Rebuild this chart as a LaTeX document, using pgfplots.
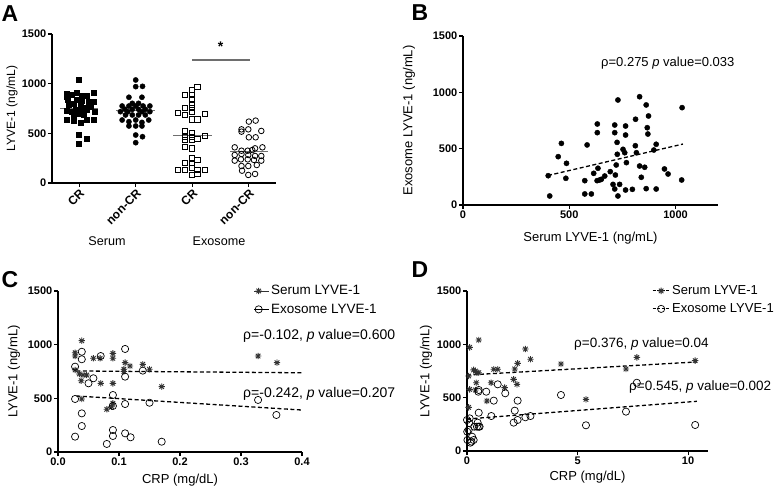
\documentclass[border=0pt]{standalone}
\usepackage{fontspec}
\setmainfont{Liberation Sans}
\usepackage{pgfplots}
\pgfplotsset{compat=1.18}

\pgfdeclareplotmark{ast8}{%
 \pgfpathmoveto{\pgfqpoint{-\pgfplotmarksize}{0pt}}\pgfpathlineto{\pgfqpoint{\pgfplotmarksize}{0pt}}%
 \pgfpathmoveto{\pgfqpoint{0pt}{-\pgfplotmarksize}}\pgfpathlineto{\pgfqpoint{0pt}{\pgfplotmarksize}}%
 \pgfpathmoveto{\pgfqpoint{-.707\pgfplotmarksize}{-.707\pgfplotmarksize}}\pgfpathlineto{\pgfqpoint{.707\pgfplotmarksize}{.707\pgfplotmarksize}}%
 \pgfpathmoveto{\pgfqpoint{-.707\pgfplotmarksize}{.707\pgfplotmarksize}}\pgfpathlineto{\pgfqpoint{.707\pgfplotmarksize}{-.707\pgfplotmarksize}}%
 \pgfusepathqstroke}

\definecolor{astgray}{RGB}{50,50,50}
\definecolor{medgray}{RGB}{110,110,110}

\pgfplotsset{prism/.style={
  scale only axis, axis lines=left, axis line style={-, line width=1.5pt, black},
  tick align=outside, major tick length=4pt, tick style={line width=1.2pt, black},
  tick label style={font=\fontsize{11}{12}\selectfont\bfseries, inner sep=1.5pt},
  /pgf/number format/assume math mode=true,
  /pgf/number format/1000 sep={},
  label style={font=\fontsize{13}{15}\selectfont},
  clip=false, anchor=south west, minor tick num=0,
}}

\pgfplotstableread{
x y
1.00 1037
0.78 903
0.78 869
0.87 893
0.95 909
1.04 876
1.14 876
1.25 909
0.80 843
0.96 843
1.05 833
1.16 819
1.25 819
0.81 785
0.90 802
1.02 785
1.11 762
1.20 768
0.78 728
0.86 718
0.94 742
1.05 728
1.14 735
1.27 718
0.90 685
0.99 702
1.08 685
0.78 641
0.90 624
1.02 607
1.14 634
1.25 634
1.00 490
1.14 443
1.00 399
}\serumCR

\pgfplotstableread{
x y
2.00 1037
2.00 970
2.12 973
1.88 863
2.11 863
1.94 802
2.05 802
1.76 775
1.88 775
2.00 775
2.13 775
2.25 775
1.81 742
1.94 742
2.05 742
2.17 742
1.73 718
1.86 718
2.11 718
2.25 718
1.82 685
1.94 685
2.05 685
2.17 685
1.76 634
2.00 634
2.23 634
1.88 617
2.11 610
1.88 574
2.00 574
2.11 574
2.00 483
2.12 466
2.00 406
}\serumNCR

\pgfplotstableread{
x y
3.09 964
2.99 937
2.87 886
2.99 886
2.99 843
2.99 785
2.87 752
2.99 752
2.74 702
2.87 685
2.99 718
3.22 692
2.99 641
3.09 641
2.87 527
2.99 507
2.87 466
2.99 466
3.22 477
2.87 433
2.99 433
3.09 440
2.87 366
2.99 349
2.99 248
2.87 205
2.99 205
3.09 232
2.74 131
2.87 131
2.99 148
3.09 131
3.22 131
2.99 81
3.09 91
}\exoCR

\pgfplotstableread{
x y
4.00 618
4.12 628
3.87 540
3.87 517
3.99 540
4.22 524
4.00 460
4.12 460
3.75 359
3.87 325
3.98 325
4.06 332
4.11 349
4.24 359
3.75 282
3.87 292
3.99 282
4.11 272
4.22 272
3.75 225
3.86 238
3.98 238
4.09 232
4.22 225
3.87 171
3.99 171
4.14 181
3.88 124
3.99 81
4.11 91
}\exoNCR

\pgfplotstableread{
x y
408 80
401 260
448 429
463 547
487 370
484 237
573 216
573 98
604 98
584 533
615 281
635 326
631 216
643 222
651 228
667 257
693 296
632 719
632 642
714 710
714 642
729 932
725 556
726 450
721 355
717 266
706 183
714 142
729 80
737 183
765 701
765 621
753 494
761 464
769 376
765 133
797 139
812 761
811 526
816 464
831 961
831 346
839 246
855 335
862 888
873 790
867 686
870 630
862 145
909 539
898 488
909 142
948 320
965 275
1031 864
1029 222
}\panelB

\pgfplotstableread{
x y
0.039 1037
0.028 925
0.028 894
0.058 873
0.069 873
0.090 919
0.090 873
0.110 832
0.118 801
0.139 817
0.150 771
0.108 771
0.108 750
0.028 764
0.035 727
0.041 717
0.047 717
0.038 664
0.070 640
0.090 640
0.170 609
0.039 494
0.080 398
0.088 422
0.090 454
0.328 894
0.359 832
}\Cserum

\pgfplotstableread{
x y
0.039 934
0.039 864
0.028 795
0.070 894
0.110 960
0.110 702
0.139 758
0.050 640
0.058 687
0.028 494
0.090 531
0.090 429
0.110 447
0.150 459
0.039 360
0.039 242
0.028 143
0.090 205
0.090 149
0.110 174
0.119 137
0.080 75
0.170 96
0.328 485
0.358 345
}\Cexo

\pgfplotstableread{
x y
0.53 1041
0.12 972
2.64 956
2.87 860
4.25 816
2.29 822
2.16 769
1.21 766
1.39 766
0.30 760
0.38 750
0.45 734
0.53 734
0.075 703
0.42 640
1.09 640
2.11 672
2.26 625
1.70 594
0.12 578
0.38 572
0.90 469
0.075 409
7.19 769
7.68 878
10.32 847
5.38 484
}\Dserum

\pgfplotstableread{
x y
0.87 556
1.21 472
1.39 625
1.73 541
2.29 472
0.53 572
0.51 556
0.53 359
1.10 328
2.16 378
2.11 266
2.29 291
2.64 316
2.87 328
0.12 306
0.075 197
0.33 228
0.45 228
0.53 228
0.23 134
0.30 103
0.15 78
4.25 525
5.38 241
7.19 369
7.68 640
10.32 244
0.01 181
0.02 103
0.20 88
0.00 291
0.10 262
0.48 266
0.57 228
}\Dexo

\begin{document}
\begin{tikzpicture}
\path[use as bounding box] (0pt,0pt) rectangle (778pt,492pt);

% ---------- Panel A ----------
\begin{axis}[prism, at={(52pt,309pt)}, width=224pt, height=149pt,
  xmin=0.52, xmax=4.48, ymin=0, ymax=1500,
  ytick={0,500,1000,1500}, xtick={1,2,3,4},
  xticklabels={CR,non-CR,CR,non-CR},
  xticklabel style={rotate=45, anchor=north east, inner sep=1pt, font=\fontsize{12}{13}\selectfont\bfseries},
  ylabel={LYVE-1 (ng/mL)},
  ylabel style={at={(rel axis cs:-0.1786,0.5)}, anchor=center, font=\fontsize{12}{14}\selectfont},
]
\addplot[only marks, mark=square*, mark size=2.5pt, black] table {\serumCR};
\addplot[only marks, mark=*, mark size=2.6pt, black] table {\serumNCR};
\addplot[only marks, mark=square, mark size=2.6pt, black, line width=0.8pt] table {\exoCR};
\addplot[only marks, mark=o, mark size=2.8pt, black, line width=0.8pt] table {\exoNCR};
\addplot[medgray, line width=1.2pt] coordinates {(0.66,747) (1.34,747)};
\addplot[medgray, line width=1.2pt] coordinates {(1.66,726) (2.34,726)};
\addplot[medgray, line width=1.2pt] coordinates {(2.66,475) (3.34,475)};
\addplot[medgray, line width=1.2pt] coordinates {(3.67,318) (4.33,318)};
\addplot[medgray, line width=1.2pt] coordinates {(3.0,1239) (4.02,1239)};
\node[font=\fontsize{14}{14}\selectfont\bfseries] at (axis cs:3.5,1370) {*};
\end{axis}

% ---------- Panel B ----------
\begin{axis}[prism, at={(463pt,287pt)}, width=255pt, height=169pt,
  xmin=0, xmax=1200, ymin=0, ymax=1500,
  xtick={0,500,1000}, ytick={0,500,1000,1500},
  xlabel={Serum LYVE-1 (ng/mL)}, ylabel={Exosome LYVE-1 (ng/mL)},
  xlabel style={at={(rel axis cs:0.5,-0.195)}, anchor=center},
  ylabel style={at={(rel axis cs:-0.2118,0.5)}, anchor=center},
]
\addplot[only marks, mark=*, mark size=2.6pt, black] table {\panelB};
\addplot[black, line width=1.3pt, dash pattern=on 4pt off 2.5pt] coordinates {(400,262) (1035,541)};
\end{axis}

% ---------- Panel C ----------
\begin{axis}[prism, at={(58pt,40pt)}, width=244pt, height=161pt,
  xmin=0, xmax=0.4, ymin=0, ymax=1500,
  xtick={0,0.1,0.2,0.3,0.4}, ytick={0,500,1000,1500},
  xticklabel style={/pgf/number format/.cd, fixed, fixed zerofill, precision=1},
  xlabel={CRP (mg/dL)}, ylabel={LYVE-1 (ng/mL)},
  xlabel style={at={(rel axis cs:0.5,-0.174)}, anchor=center},
  ylabel style={at={(rel axis cs:-0.18,0.5)}, anchor=center},
  legend style={at={(rel axis cs:0.79,1.06)}, anchor=north west, draw=none, fill=none,
    font=\fontsize{13.5}{15}\selectfont, row sep=3.5pt, cells={anchor=west}},
  legend image code/.code={\path (0cm,0cm) -- (0.5cm,0cm); \draw[#1] plot coordinates {(0.15cm,0cm)};},
]
\addplot[only marks, mark=ast8, mark size=3.2pt, astgray, line width=0.9pt] table {\Cserum};
\addlegendentry{Serum LYVE-1}
\addplot[only marks, mark=o, mark size=3.6pt, black, line width=0.7pt] table {\Cexo};
\addlegendentry{Exosome LYVE-1}
\addplot[black, line width=1.3pt, dash pattern=on 4pt off 2.5pt, forget plot] coordinates {(0.03,755) (0.4,738)};
\addplot[black, line width=1.3pt, dash pattern=on 4pt off 2.5pt, forget plot] coordinates {(0.03,522) (0.4,391)};
\end{axis}

% ---------- Panel D ----------
\begin{axis}[prism, at={(467pt,41pt)}, width=241pt, height=160pt,
  xmin=0, xmax=10.9, ymin=0, ymax=1500,
  xtick={0,5,10}, ytick={0,500,1000,1500},
  xlabel={CRP (mg/dL)}, ylabel={LYVE-1 (ng/mL)},
  xlabel style={at={(rel axis cs:0.5,-0.163)}, anchor=center},
  ylabel style={at={(rel axis cs:-0.17,0.5)}, anchor=center},
  legend style={at={(rel axis cs:0.755,1.06)}, anchor=north west, draw=none, fill=none,
    font=\fontsize{13}{15}\selectfont, row sep=3.5pt, cells={anchor=west}},
  legend image code/.code={\draw[black, line width=0.9pt, dash pattern=on 3pt off 1.5pt] (0cm,0cm) -- (0.6cm,0cm);
    \draw[#1] plot coordinates {(0.3cm,0cm)};},
]
\addplot[only marks, mark=ast8, mark size=3.2pt, astgray, line width=0.9pt] table {\Dserum};
\addlegendentry{Serum LYVE-1}
\addplot[only marks, mark=o, mark size=3.6pt, black, line width=0.7pt, mark options={fill=white}] table {\Dexo};
\addlegendentry{Exosome LYVE-1}
\addplot[black, line width=1.3pt, dash pattern=on 4pt off 2.5pt, forget plot] coordinates {(0,712) (10.4,835)};
\addplot[black, line width=1.3pt, dash pattern=on 4pt off 2.5pt, forget plot] coordinates {(0,300) (10.4,466)};
\end{axis}

% ---------- texts ----------
\node[font=\fontsize{23}{23}\selectfont\bfseries] at (10pt,478pt) {A};
\node[font=\fontsize{23}{23}\selectfont\bfseries] at (420pt,479pt) {B};
\node[font=\fontsize{23}{23}\selectfont\bfseries] at (10pt,212pt) {C};
\node[font=\fontsize{23}{23}\selectfont\bfseries] at (420pt,222pt) {D};
\node[font=\fontsize{12.6}{14}\selectfont] at (107pt,251pt) {Serum};
\node[font=\fontsize{12.6}{14}\selectfont] at (219pt,251pt) {Exosome};
\node[font=\fontsize{13}{15}\selectfont, anchor=west, inner sep=0pt] at (601pt,429pt) {ρ=0.275 \textit{p} value=0.033};
\node[font=\fontsize{14}{15}\selectfont, anchor=west, inner sep=0pt] at (243pt,156pt) {ρ=-0.102, \textit{p} value=0.600};
\node[font=\fontsize{14}{15}\selectfont, anchor=west, inner sep=0pt] at (243pt,98pt) {ρ=-0.242, \textit{p} value=0.207};
\node[font=\fontsize{13.5}{15}\selectfont, anchor=west, inner sep=0pt] at (574pt,148pt) {ρ=0.376, \textit{p} value=0.04};
\node[font=\fontsize{13.5}{15}\selectfont, anchor=west, inner sep=0pt] at (629pt,105pt) {ρ=0.545, \textit{p} value=0.002};
\end{tikzpicture}
\end{document}
